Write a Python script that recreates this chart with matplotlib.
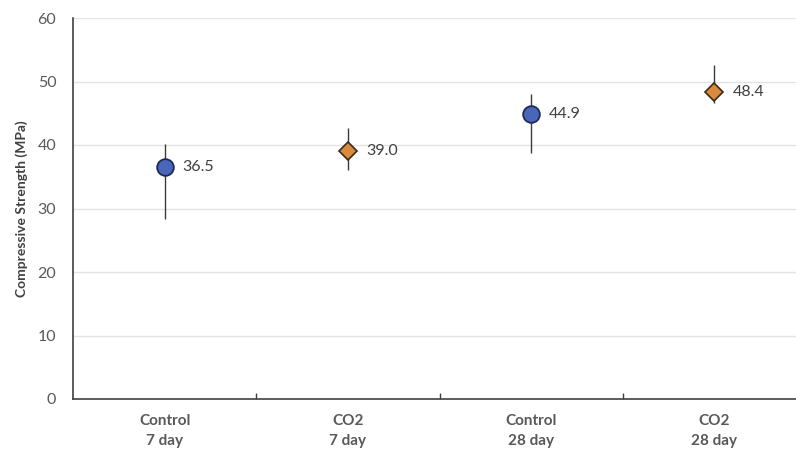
import matplotlib
matplotlib.use("Agg")
import matplotlib.pyplot as plt
import numpy as np

categories = ["Control\n7 day", "CO2\n7 day", "Control\n28 day", "CO2\n28 day"]
means = [36.5, 39.0, 44.9, 48.4]
err_low = [28.3, 36.1, 38.7, 46.6]
err_high = [40.1, 42.7, 48.0, 52.6]
value_labels = ["36.5", "39.0", "44.9", "48.4"]
groups = ["Control", "CO2", "Control", "CO2"]
yticks = [0, 10, 20, 30, 40, 50, 60]

plt.rcParams['font.family'] = ['Lato', 'DejaVu Sans']

W, H = 796, 458
fig = plt.figure(figsize=(W / 100, H / 100), dpi=100)
left, right, bottom, top = 73, 806, 399, 18
ax = fig.add_axes([left / W, 1 - bottom / H, (right - left) / W, (bottom - top) / H])

x = np.arange(len(categories))
ax.set_xlim(-0.5, len(categories) - 0.5)
ax.set_ylim(0, 60)

for v in yticks[1:]:
    ax.axhline(v, color='#e3e3e3', lw=1.0, zorder=0)

styles = {
    "Control": dict(marker='o', ms=12, mfc='#4a66b9', mec='#1e2b55', mew=1.3),
    "CO2": dict(marker='D', ms=9.5, mfc='#d98a3c', mec='#3a2a18', mew=1.2),
}

for i in range(len(categories)):
    m = means[i]
    yerr = [[m - err_low[i]], [err_high[i] - m]]
    ax.errorbar(x[i], m, yerr=yerr, fmt='none', ecolor='#3a3a3a', elinewidth=1.0,
                capsize=0, zorder=2)
    ax.plot(x[i], m, linestyle='none', zorder=3, **styles[groups[i]])
    ax.annotate(value_labels[i], (x[i], m), xytext=(13, 0), textcoords='offset points',
                ha='left', va='center', fontsize=11.5, color='#404040')

ax.set_yticks(yticks)
ax.set_yticklabels([str(v) for v in yticks], fontsize=11.5, color='#595959')
ax.tick_params(axis='y', length=0, pad=12)

ax.set_xticks(x)
ax.set_xticklabels(categories, fontsize=11, color='#595959', fontweight='bold',
                   linespacing=1.5)
ax.tick_params(axis='x', which='major', length=0, pad=11)
ax.set_xticks(x[:-1] + 0.5, minor=True)
ax.tick_params(axis='x', which='minor', direction='in', length=4, color='#404040', width=1)

for s in ['top', 'right']:
    ax.spines[s].set_visible(False)
for s in ['left', 'bottom']:
    ax.spines[s].set_color('#404040')
    ax.spines[s].set_linewidth(1.2)

ax.set_ylabel("Compressive Strength (MPa)", fontsize=10, fontweight='bold',
              color='#404040', labelpad=7)

fig.savefig("out.png", dpi=100)
